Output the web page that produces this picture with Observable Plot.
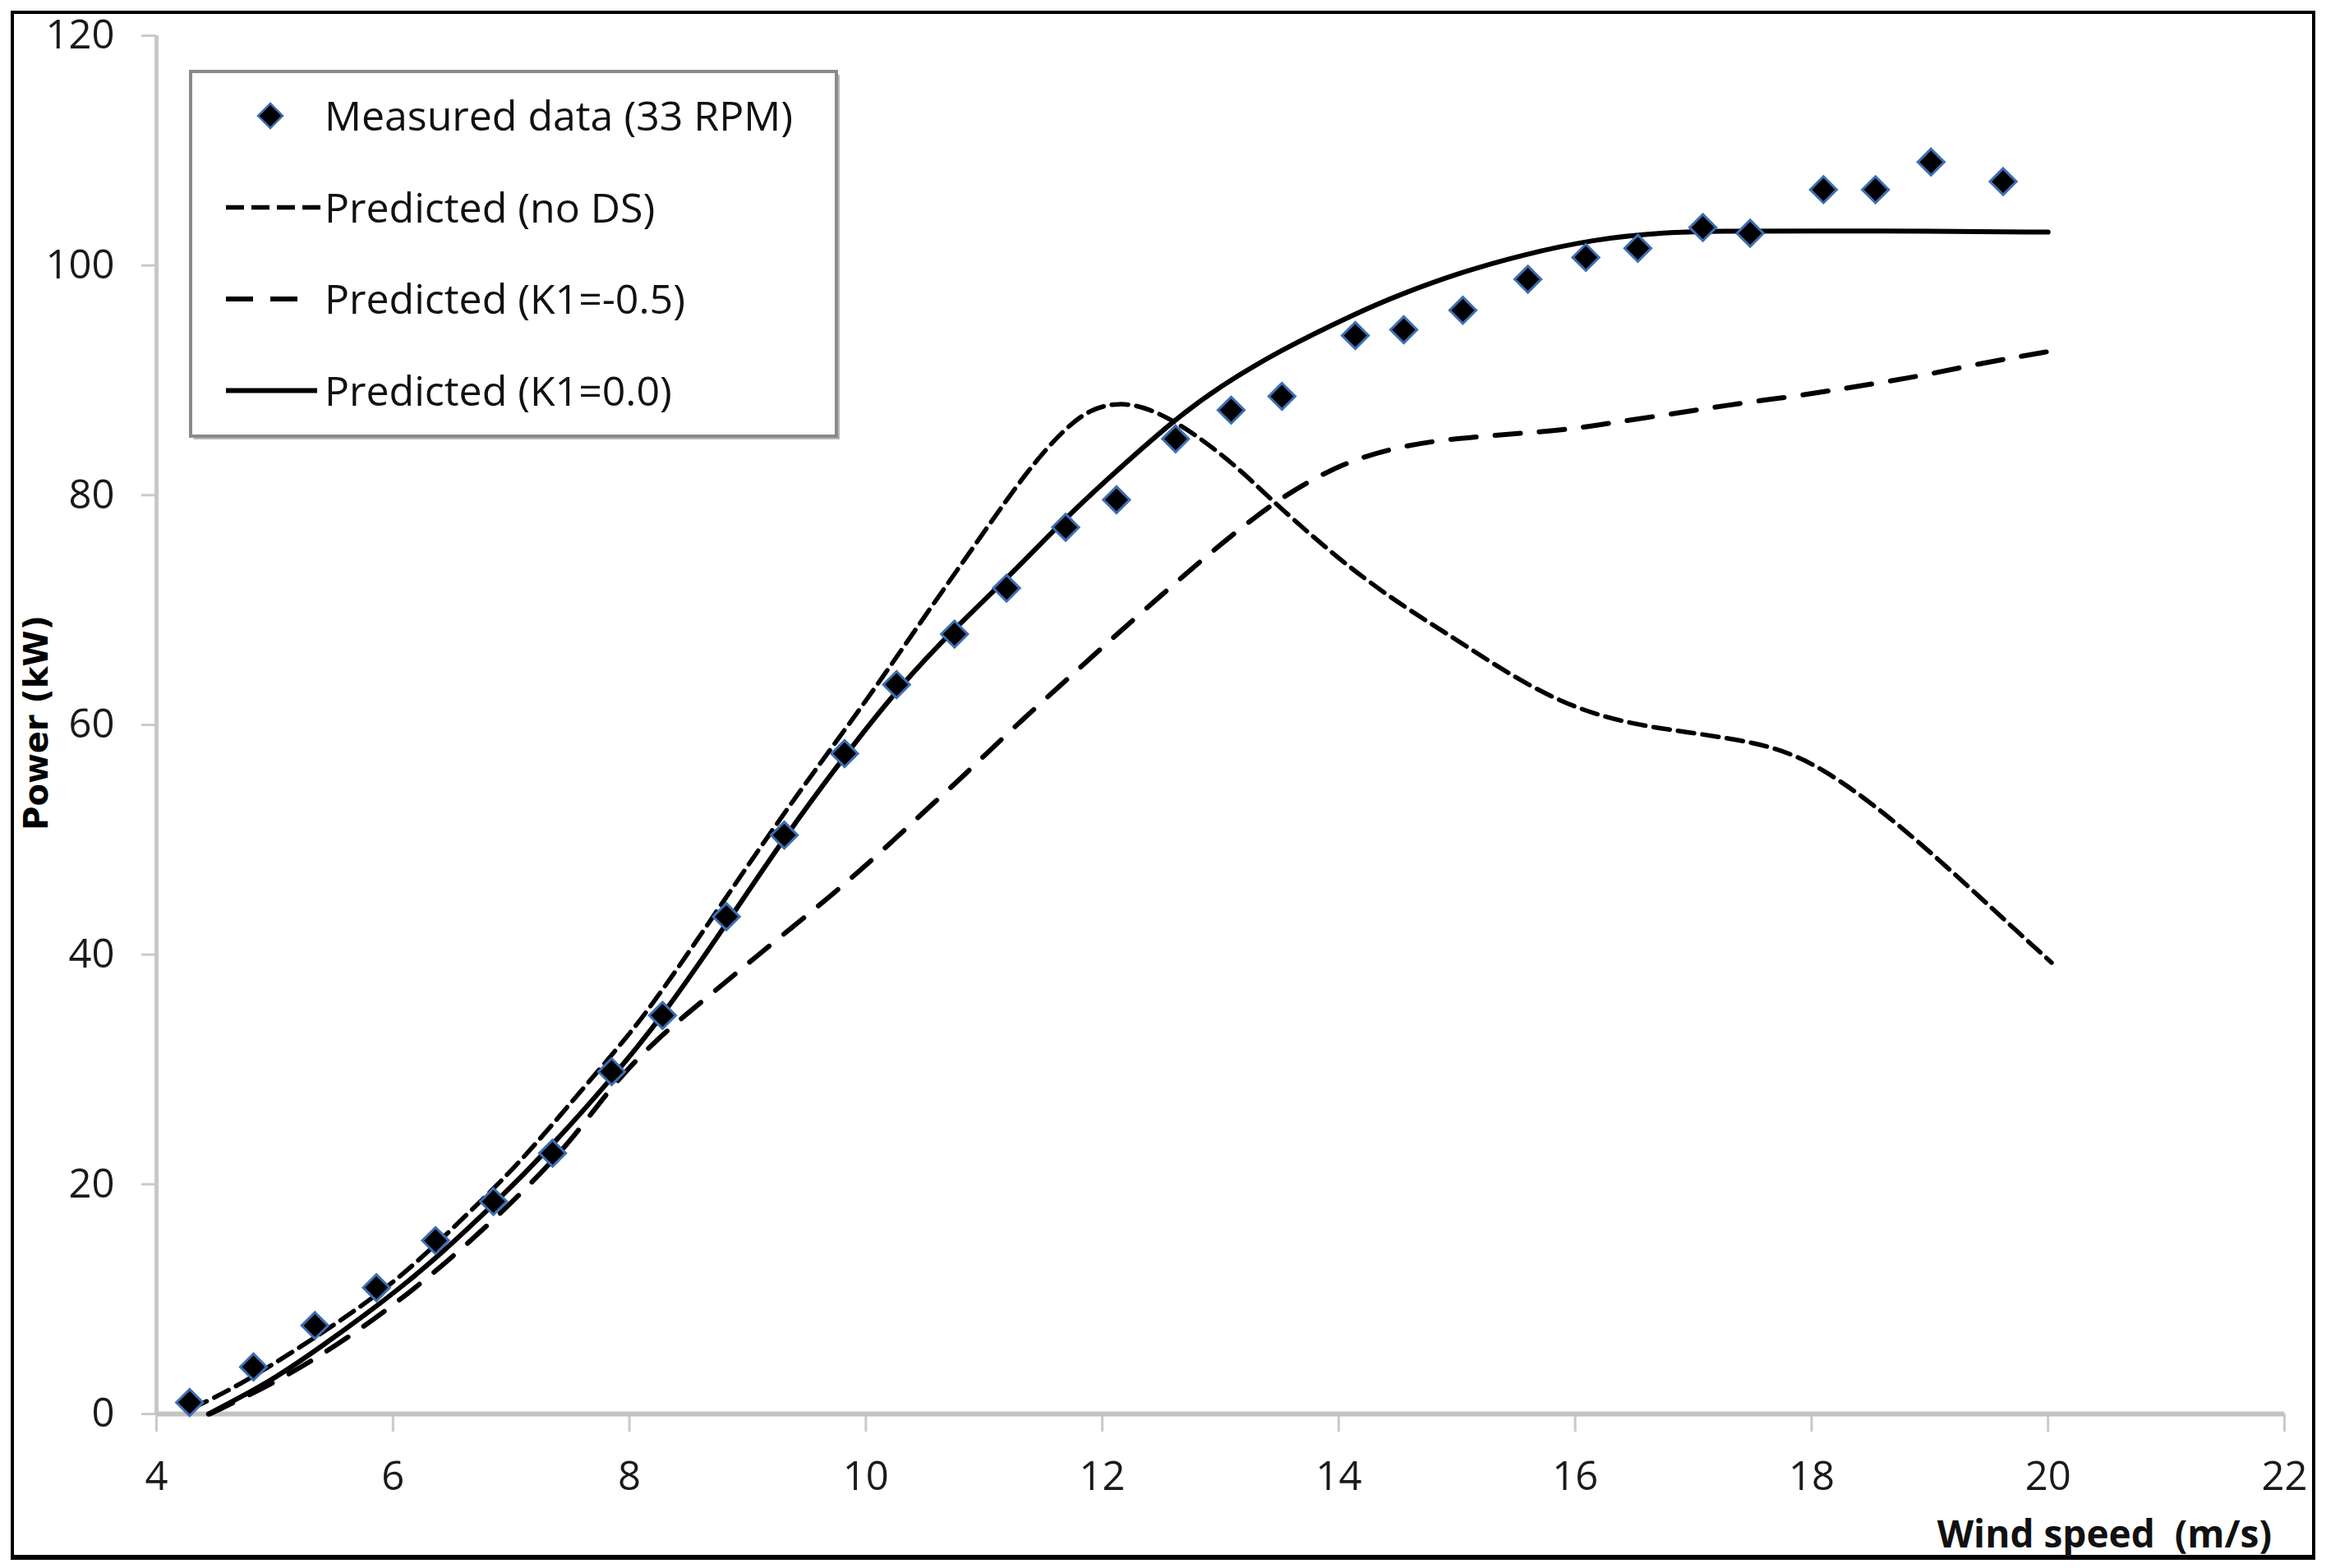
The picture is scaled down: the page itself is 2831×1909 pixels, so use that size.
<!DOCTYPE html>
<html><head><meta charset="utf-8">
<script src="https://cdn.jsdelivr.net/npm/d3@7"></script>
<script src="https://cdn.jsdelivr.net/npm/@observablehq/plot@0.6"></script>
<style>
html,body{margin:0;padding:0;background:#fff;}
#wrap{position:relative;width:2831px;height:1909px;overflow:hidden;background:#fff;}
#frame{position:absolute;left:13px;top:13px;width:2805px;height:1886px;box-sizing:border-box;border:4px solid #000;border-bottom-width:6px;}
#chart{position:absolute;left:0;top:0;}
#overlay{position:absolute;left:0;top:0;pointer-events:none;}
</style></head>
<body><div id="wrap"><div id="frame"></div><div id="chart"></div><div id="overlay"></div></div>
<script>
// ---- data ----
const xTicks = [4, 6, 8, 10, 12, 14, 16, 18, 20, 22];
const yTicks = [0, 20, 40, 60, 80, 100, 120];

const measuredWind = [4.28,4.82,5.34,5.86,6.36,6.85,7.35,7.85,8.28,8.82,9.31,9.82,10.26,10.75,11.19,11.69,12.12,12.62,13.09,13.52,14.14,14.55,15.05,15.60,16.09,16.53,17.08,17.48,18.10,18.54,19.01,19.62];
const measuredPower = [1.0,4.1,7.7,11.0,15.1,18.5,22.7,29.8,34.7,43.3,50.4,57.5,63.5,67.9,71.9,77.2,79.6,84.9,87.4,88.6,93.9,94.4,96.1,98.8,100.7,101.5,103.3,102.8,106.6,106.6,109.0,107.3];

const noDsWind = [4.3,4.65,5.17,5.67,6.10,6.57,7.03,7.44,7.78,7.96,8.17,8.57,8.97,9.41,9.84,10.18,10.46,11.0,11.37,11.68,11.9,12.14,12.39,12.67,12.98,13.23,13.46,14.0,14.5,15.0,15.5,16.0,16.5,17.0,17.5,17.81,18.12,18.52,18.93,19.34,19.75,20.03];
const noDsPower = [0.5,2.2,5.5,8.9,12.2,16.8,21.4,26.3,30.4,32.6,35.3,41.2,47.3,53.8,59.8,64.7,68.9,76.8,82.2,85.8,87.5,88.1,87.6,86.1,83.8,81.6,79.3,74.4,70.6,67.4,64.0,61.4,60.0,59.3,58.5,57.6,56.0,53.1,49.6,45.8,41.9,39.3];

const k1NegWind = [4.45,5.0,5.5,6.0,6.5,7.0,7.5,7.85,8.2,8.48,8.79,9.07,9.38,9.69,9.96,10.24,10.52,10.80,11.05,11.33,11.62,11.91,12.19,12.49,12.78,13.07,13.42,13.71,14.05,14.42,14.79,15.18,15.55,15.94,16.31,16.70,17.09,17.46,17.85,18.22,18.59,18.98,19.35,19.72,20.0];
const k1NegPower = [0,2.7,5.8,9.4,13.6,18.3,23.6,28.6,32.3,34.8,37.4,39.8,42.4,45.0,47.4,50.0,52.7,55.3,57.8,60.5,63.2,65.9,68.5,71.2,73.8,76.3,79.1,81.0,82.8,84.0,84.7,85.1,85.4,85.7,86.3,86.9,87.5,88.1,88.6,89.2,89.8,90.5,91.3,92.0,92.5];

const k1ZeroWind = [4.44,4.7,5.0,5.4,5.8,6.1,6.4,6.85,7.35,7.85,8.28,8.83,9.31,9.82,10.28,10.76,11.19,11.68,12.0,12.61,13.0,13.5,14.16,14.5,15.0,15.54,16.16,16.78,17.2,18.0,19.0,20.0];
const k1ZeroPower = [0,1.4,3.1,5.9,8.9,11.3,13.9,18.2,23.4,29.2,34.6,42.8,50.2,57.3,63.3,68.5,72.7,77.9,81.0,86.6,89.5,92.6,95.9,97.4,99.3,100.9,102.3,102.9,103.0,103.0,103.0,102.9];

const legendLabels = ["Measured data (33 RPM)", "Predicted (no DS)", "Predicted (K1=-0.5)", "Predicted (K1=0.0)"];
const xLabel = "Wind speed\u00a0 (m/s)";
const yLabel = "Power (kW)";

// ---- tables ----
const zip = (xs, ys) => xs.map((x, i) => ({wind: x, power: ys[i]}));
const measured = zip(measuredWind, measuredPower);
const noDs = zip(noDsWind, noDsPower);
const k1Neg = zip(k1NegWind, k1NegPower);
const k1Zero = zip(k1ZeroWind, k1ZeroPower);

const W = 2831, H = 1909;
const font = "'Open Sans', 'Liberation Sans', sans-serif";

const chart = Plot.plot({
  width: W, height: H,
  marginLeft: 190, marginRight: 51, marginTop: 43, marginBottom: 188,
  x: {domain: [4, 22]},
  y: {domain: [0, 120]},
  style: {fontFamily: font, fontSize: "49px", background: "transparent", color: "#1a1a1a"},
  marks: [
    Plot.axisX({ticks: xTicks, tickSize: 22, tickPadding: 36, stroke: "#cacaca", strokeWidth: 3, fill: "#1a1a1a", label: null, tickFormat: d => String(d)}),
    Plot.axisY({ticks: yTicks, tickSize: 18, tickPadding: 33, stroke: "#cacaca", strokeWidth: 3, fill: "#1a1a1a", label: null, tickFormat: d => String(d)}),
    Plot.ruleX([4], {y1: 0, y2: 120, stroke: "#c8c8c8", strokeWidth: 5}),
    Plot.ruleY([0], {x1: 4, x2: 22, stroke: "#c3c3c3", strokeWidth: 6}),
    Plot.line(noDs, {x: "wind", y: "power", stroke: "black", strokeWidth: 5.5, strokeDasharray: "20,10", curve: "basis"}),
    Plot.line(k1Neg, {x: "wind", y: "power", stroke: "black", strokeWidth: 6, strokeDasharray: "31,23", curve: "basis"}),
    Plot.line(k1Zero, {x: "wind", y: "power", stroke: "black", strokeWidth: 6, curve: "basis"}),
    Plot.dot(measured, {x: "wind", y: "power", symbol: "diamond2", r: 14.5, fill: "black", stroke: "#3d6fb5", strokeWidth: 3})
  ]
});
document.getElementById("chart").appendChild(chart);

// ---- overlay: legend and axis titles ----
const svg = d3.create("svg").attr("width", W).attr("height", H);

// y-axis title
svg.append("text")
  .attr("transform", "translate(58,880) rotate(-90)")
  .attr("text-anchor", "middle")
  .attr("font-family", "'DejaVu Sans', Verdana, sans-serif")
  .attr("font-weight", "bold")
  .attr("font-size", 40)
  .attr("fill", "#000")
  .text(yLabel);

// x-axis title
svg.append("text")
  .attr("x", 2765).attr("y", 1884)
  .attr("text-anchor", "end")
  .attr("font-family", font)
  .attr("font-weight", "bold")
  .attr("font-size", 46)
  .attr("fill", "#111")
  .text(xLabel);

// legend box
const lg = svg.append("g");
lg.append("rect").attr("x", 236).attr("y", 91).attr("width", 786).attr("height", 444).attr("fill", "#b8b8b8");
lg.append("rect").attr("x", 232).attr("y", 87).attr("width", 786).attr("height", 444)
  .attr("fill", "#fff").attr("stroke", "#8a8a8a").attr("stroke-width", 4);

const rowY = i => 141 + i * 111.5;
// marker
const my = rowY(0);
lg.append("path")
  .attr("d", `M329,${my-15}L344,${my}L329,${my+15}L314,${my}Z`)
  .attr("fill", "black").attr("stroke", "#3d6fb5").attr("stroke-width", 2.5);
// line samples
lg.append("line").attr("x1", 275).attr("x2", 394).attr("y1", rowY(1)).attr("y2", rowY(1))
  .attr("stroke", "black").attr("stroke-width", 5.5).attr("stroke-dasharray", "22,9");
lg.append("line").attr("x1", 275).attr("x2", 363).attr("y1", rowY(2)).attr("y2", rowY(2))
  .attr("stroke", "black").attr("stroke-width", 6).attr("stroke-dasharray", "33,21");
lg.append("line").attr("x1", 275).attr("x2", 386).attr("y1", rowY(3)).attr("y2", rowY(3))
  .attr("stroke", "black").attr("stroke-width", 6);

legendLabels.forEach((t, i) => {
  lg.append("text")
    .attr("x", 395).attr("y", rowY(i)).attr("dy", "0.36em")
    .attr("font-family", font).attr("font-size", 50).attr("fill", "#111")
    .text(t);
});

document.getElementById("overlay").appendChild(svg.node());
</script></body></html>
